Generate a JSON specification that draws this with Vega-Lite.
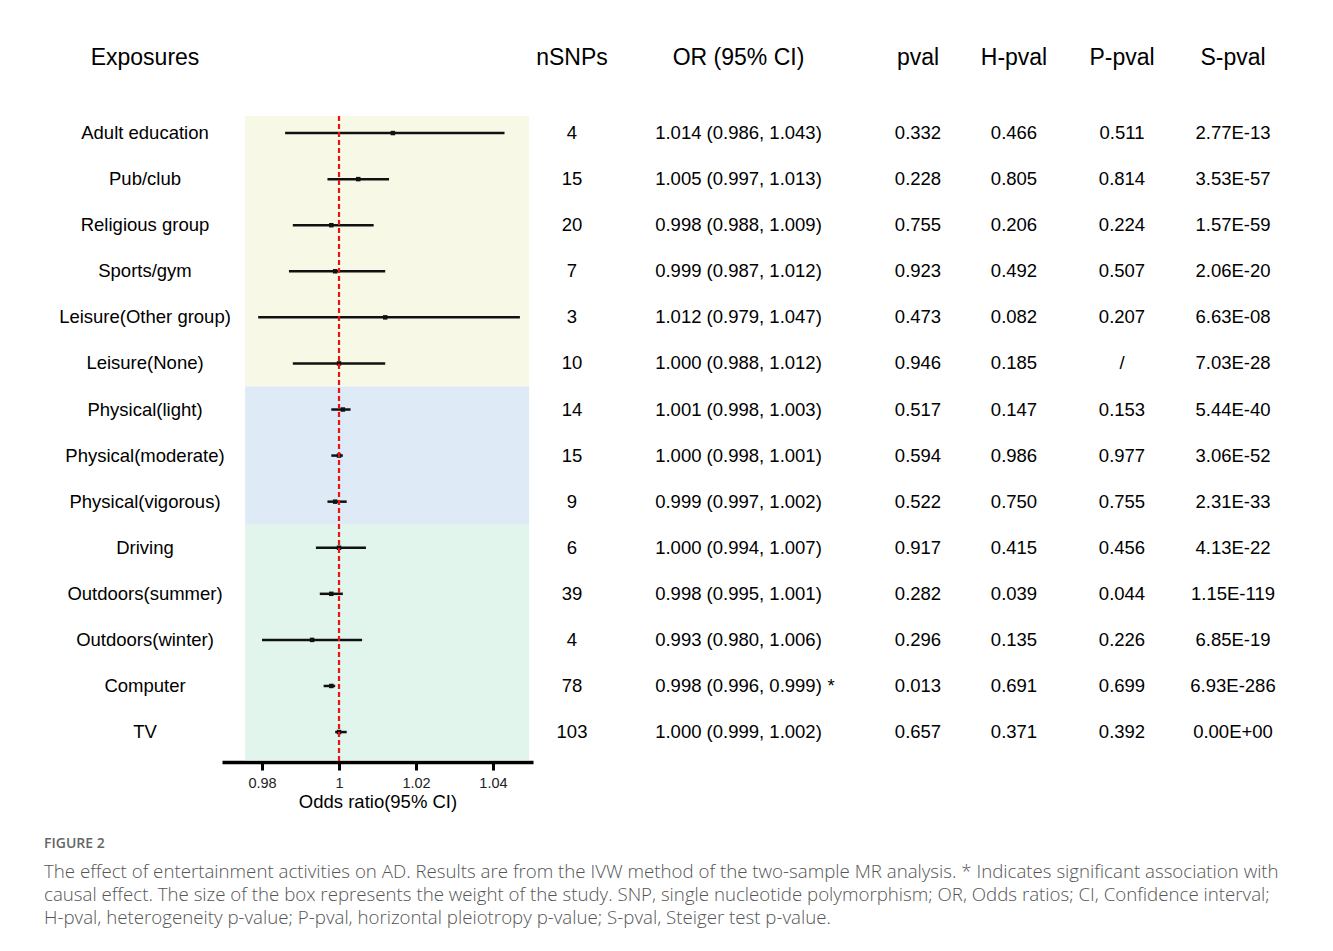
{
  "$schema": "https://vega.github.io/schema/vega-lite/v6.json",
  "background": "white",
  "padding": {"left": 44, "top": 47, "right": 10, "bottom": 20},
  "datasets": {
    "rows": [
      {"row": 1, "exposure": "Adult education", "group": "Leisure", "nsnp": 4, "or": 1.014, "lo": 0.986, "hi": 1.043, "ci": "1.014 (0.986, 1.043)", "sig": "", "pval": "0.332", "hpval": "0.466", "ppval": "0.511", "spval": "2.77E-13"},
      {"row": 2, "exposure": "Pub/club", "group": "Leisure", "nsnp": 15, "or": 1.005, "lo": 0.997, "hi": 1.013, "ci": "1.005 (0.997, 1.013)", "sig": "", "pval": "0.228", "hpval": "0.805", "ppval": "0.814", "spval": "3.53E-57"},
      {"row": 3, "exposure": "Religious group", "group": "Leisure", "nsnp": 20, "or": 0.998, "lo": 0.988, "hi": 1.009, "ci": "0.998 (0.988, 1.009)", "sig": "", "pval": "0.755", "hpval": "0.206", "ppval": "0.224", "spval": "1.57E-59"},
      {"row": 4, "exposure": "Sports/gym", "group": "Leisure", "nsnp": 7, "or": 0.999, "lo": 0.987, "hi": 1.012, "ci": "0.999 (0.987, 1.012)", "sig": "", "pval": "0.923", "hpval": "0.492", "ppval": "0.507", "spval": "2.06E-20"},
      {"row": 5, "exposure": "Leisure(Other group)", "group": "Leisure", "nsnp": 3, "or": 1.012, "lo": 0.979, "hi": 1.047, "ci": "1.012 (0.979, 1.047)", "sig": "", "pval": "0.473", "hpval": "0.082", "ppval": "0.207", "spval": "6.63E-08"},
      {"row": 6, "exposure": "Leisure(None)", "group": "Leisure", "nsnp": 10, "or": 1.0, "lo": 0.988, "hi": 1.012, "ci": "1.000 (0.988, 1.012)", "sig": "", "pval": "0.946", "hpval": "0.185", "ppval": "/", "spval": "7.03E-28"},
      {"row": 7, "exposure": "Physical(light)", "group": "Physical", "nsnp": 14, "or": 1.001, "lo": 0.998, "hi": 1.003, "ci": "1.001 (0.998, 1.003)", "sig": "", "pval": "0.517", "hpval": "0.147", "ppval": "0.153", "spval": "5.44E-40"},
      {"row": 8, "exposure": "Physical(moderate)", "group": "Physical", "nsnp": 15, "or": 1.0, "lo": 0.998, "hi": 1.001, "ci": "1.000 (0.998, 1.001)", "sig": "", "pval": "0.594", "hpval": "0.986", "ppval": "0.977", "spval": "3.06E-52"},
      {"row": 9, "exposure": "Physical(vigorous)", "group": "Physical", "nsnp": 9, "or": 0.999, "lo": 0.997, "hi": 1.002, "ci": "0.999 (0.997, 1.002)", "sig": "", "pval": "0.522", "hpval": "0.750", "ppval": "0.755", "spval": "2.31E-33"},
      {"row": 10, "exposure": "Driving", "group": "Sedentary", "nsnp": 6, "or": 1.0, "lo": 0.994, "hi": 1.007, "ci": "1.000 (0.994, 1.007)", "sig": "", "pval": "0.917", "hpval": "0.415", "ppval": "0.456", "spval": "4.13E-22"},
      {"row": 11, "exposure": "Outdoors(summer)", "group": "Sedentary", "nsnp": 39, "or": 0.998, "lo": 0.995, "hi": 1.001, "ci": "0.998 (0.995, 1.001)", "sig": "", "pval": "0.282", "hpval": "0.039", "ppval": "0.044", "spval": "1.15E-119"},
      {"row": 12, "exposure": "Outdoors(winter)", "group": "Sedentary", "nsnp": 4, "or": 0.993, "lo": 0.98, "hi": 1.006, "ci": "0.993 (0.980, 1.006)", "sig": "", "pval": "0.296", "hpval": "0.135", "ppval": "0.226", "spval": "6.85E-19"},
      {"row": 13, "exposure": "Computer", "group": "Sedentary", "nsnp": 78, "or": 0.998, "lo": 0.996, "hi": 0.999, "ci": "0.998 (0.996, 0.999)", "sig": "*", "pval": "0.013", "hpval": "0.691", "ppval": "0.699", "spval": "6.93E-286"},
      {"row": 14, "exposure": "TV", "group": "Sedentary", "nsnp": 103, "or": 1.0, "lo": 0.999, "hi": 1.002, "ci": "1.000 (0.999, 1.002)", "sig": "", "pval": "0.657", "hpval": "0.371", "ppval": "0.392", "spval": "0.00E+00"}
    ],
    "bands": [
      {"group": "Leisure", "y1": 0.63, "y2": 6.5},
      {"group": "Physical", "y1": 6.5, "y2": 9.5},
      {"group": "Sedentary", "y1": 9.5, "y2": 14.61}
    ]
  },
  "title": {
    "text": "FIGURE 2",
    "subtitle": [
      "The effect of entertainment activities on AD. Results are from the IVW method of the two-sample MR analysis. * Indicates significant association with",
      "causal effect. The size of the box represents the weight of the study. SNP, single nucleotide polymorphism; OR, Odds ratios; CI, Confidence interval;",
      "H-pval, heterogeneity p-value; P-pval, horizontal pleiotropy p-value; S-pval, Steiger test p-value."
    ],
    "orient": "bottom",
    "anchor": "start",
    "frame": "group",
    "dx": -24,
    "offset": 26,
    "font": "Open Sans",
    "fontSize": 14,
    "fontWeight": 600,
    "color": "#666666",
    "subtitleFont": "Open Sans",
    "subtitleFontSize": 18.7,
    "subtitleFontWeight": 300,
    "subtitleColor": "#555555",
    "subtitleLineHeight": 23,
    "subtitlePadding": 12
  },
  "spacing": 0,
  "bounds": "flush",
  "hconcat": [
    {
      "width": 154,
      "height": 646,
      "title": {"text": "Exposures", "fontSize": 23, "fontWeight": "normal", "font": "Liberation Sans", "color": "black", "offset": 46, "anchor": "middle"},
      "data": {"name": "rows"},
      "mark": {"type": "text", "fontSize": 18.5, "font": "Liberation Sans", "color": "black", "baseline": "middle"},
      "encoding": {
        "y": {"field": "row", "type": "quantitative", "scale": {"domain": [0.63, 14.65], "reverse": true, "nice": false, "zero": false}, "axis": null},
        "text": {"field": "exposure"}
      }
    },
    {
      "width": 311,
      "height": 646,
      "layer": [
        {
          "data": {"name": "bands"},
          "mark": {"type": "rect"},
          "encoding": {
            "x": {"datum": 0.9756, "type": "quantitative"},
            "x2": {"datum": 1.0494},
            "y": {"field": "y1", "type": "quantitative", "scale": {"domain": [0.63, 14.65], "reverse": true, "nice": false, "zero": false}, "axis": null},
            "y2": {"field": "y2"},
            "color": {"field": "group", "type": "nominal", "scale": {"domain": ["Leisure", "Physical", "Sedentary"], "range": ["#f8f8e6", "#deebf6", "#e1f5ec"]}, "legend": null}
          }
        },
        {
          "data": {"name": "rows"},
          "mark": {"type": "rule", "color": "#111111", "strokeWidth": 2.5},
          "encoding": {
            "x": {
              "field": "lo", "type": "quantitative",
              "scale": {"domain": [0.9696, 1.0504], "nice": false, "zero": false},
              "axis": {
                "values": [0.98, 1, 1.02, 1.04], "format": "~g", "grid": false,
                "domainColor": "black", "domainWidth": 3.5,
                "tickColor": "black", "tickWidth": 3, "tickSize": 8,
                "labelFont": "Liberation Sans", "labelFontSize": 14.5, "labelColor": "#222222", "labelPadding": 6,
                "title": "Odds ratio(95% CI)", "titleFont": "Liberation Sans", "titleFontSize": 18.5, "titleFontWeight": "normal", "titleColor": "black", "titlePadding": 3
              }
            },
            "x2": {"field": "hi"},
            "y": {"field": "row", "type": "quantitative"}
          }
        },
        {
          "data": {"name": "rows"},
          "mark": {"type": "square", "color": "#111111", "filled": true, "opacity": 1, "size": 20},
          "encoding": {
            "x": {"field": "or", "type": "quantitative"},
            "y": {"field": "row", "type": "quantitative"}
          }
        },
        {
          "data": {"values": [{"ref": 1}]},
          "mark": {"type": "rule", "color": "#ee1111", "strokeWidth": 2.2, "strokeDash": [5, 3]},
          "encoding": {
            "x": {"field": "ref", "type": "quantitative"}
          }
        }
      ]
    },
    {
      "width": 78,
      "height": 646,
      "title": {"text": "nSNPs", "fontSize": 23, "fontWeight": "normal", "font": "Liberation Sans", "color": "black", "offset": 46, "anchor": "middle"},
      "data": {"name": "rows"},
      "mark": {"type": "text", "fontSize": 18.5, "font": "Liberation Sans", "color": "black", "baseline": "middle"},
      "encoding": {
        "y": {"field": "row", "type": "quantitative", "scale": {"domain": [0.63, 14.65], "reverse": true, "nice": false, "zero": false}, "axis": null},
        "text": {"field": "nsnp", "type": "quantitative"}
      }
    },
    {
      "width": 255,
      "height": 646,
      "title": {"text": "OR (95% CI)", "fontSize": 23, "fontWeight": "normal", "font": "Liberation Sans", "color": "black", "offset": 46, "anchor": "middle"},
      "data": {"name": "rows"},
      "layer": [
        {
          "mark": {"type": "text", "fontSize": 18.5, "font": "Liberation Sans", "color": "black", "baseline": "middle"},
          "encoding": {
            "y": {"field": "row", "type": "quantitative", "scale": {"domain": [0.63, 14.65], "reverse": true, "nice": false, "zero": false}, "axis": null},
            "text": {"field": "ci"}
          }
        },
        {
          "transform": [{"filter": "datum.sig != ''"}],
          "mark": {"type": "text", "fontSize": 18.5, "font": "Liberation Sans", "color": "black", "baseline": "middle", "align": "left", "dx": 89},
          "encoding": {
            "y": {"field": "row", "type": "quantitative"},
            "text": {"field": "sig"}
          }
        }
      ]
    },
    {
      "width": 104,
      "height": 646,
      "title": {"text": "pval", "fontSize": 23, "fontWeight": "normal", "font": "Liberation Sans", "color": "black", "offset": 46, "anchor": "middle"},
      "data": {"name": "rows"},
      "mark": {"type": "text", "fontSize": 18.5, "font": "Liberation Sans", "color": "black", "baseline": "middle"},
      "encoding": {
        "y": {"field": "row", "type": "quantitative", "scale": {"domain": [0.63, 14.65], "reverse": true, "nice": false, "zero": false}, "axis": null},
        "text": {"field": "pval"}
      }
    },
    {
      "width": 88,
      "height": 646,
      "title": {"text": "H-pval", "fontSize": 23, "fontWeight": "normal", "font": "Liberation Sans", "color": "black", "offset": 46, "anchor": "middle"},
      "data": {"name": "rows"},
      "mark": {"type": "text", "fontSize": 18.5, "font": "Liberation Sans", "color": "black", "baseline": "middle"},
      "encoding": {
        "y": {"field": "row", "type": "quantitative", "scale": {"domain": [0.63, 14.65], "reverse": true, "nice": false, "zero": false}, "axis": null},
        "text": {"field": "hpval"}
      }
    },
    {
      "width": 128,
      "height": 646,
      "title": {"text": "P-pval", "fontSize": 23, "fontWeight": "normal", "font": "Liberation Sans", "color": "black", "offset": 46, "anchor": "middle"},
      "data": {"name": "rows"},
      "mark": {"type": "text", "fontSize": 18.5, "font": "Liberation Sans", "color": "black", "baseline": "middle"},
      "encoding": {
        "y": {"field": "row", "type": "quantitative", "scale": {"domain": [0.63, 14.65], "reverse": true, "nice": false, "zero": false}, "axis": null},
        "text": {"field": "ppval"}
      }
    },
    {
      "width": 94,
      "height": 646,
      "title": {"text": "S-pval", "fontSize": 23, "fontWeight": "normal", "font": "Liberation Sans", "color": "black", "offset": 46, "anchor": "middle"},
      "data": {"name": "rows"},
      "mark": {"type": "text", "fontSize": 18.5, "font": "Liberation Sans", "color": "black", "baseline": "middle"},
      "encoding": {
        "y": {"field": "row", "type": "quantitative", "scale": {"domain": [0.63, 14.65], "reverse": true, "nice": false, "zero": false}, "axis": null},
        "text": {"field": "spval"}
      }
    }
  ],
  "config": {
    "view": {"stroke": null}
  }
}
